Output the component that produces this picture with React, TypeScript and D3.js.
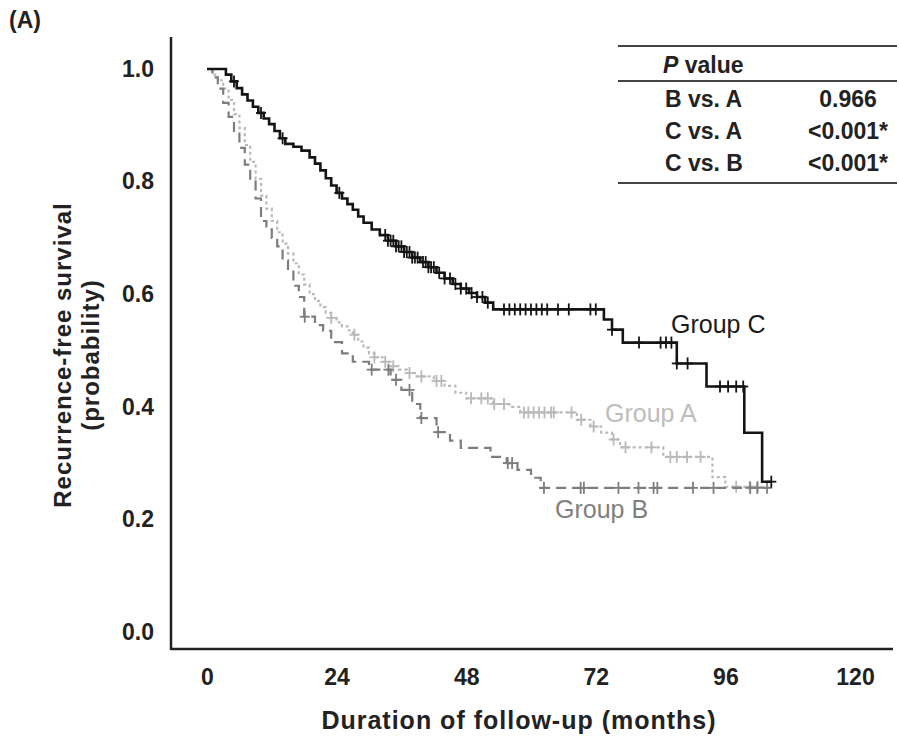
import { useEffect, useRef } from 'react';
import * as d3 from 'd3';

// Kaplan-Meier steps (months, survival after the step)
const groupCTimes = [0, 3.5, 4.5, 5.5, 6.5, 7.5, 8.5, 9.5, 10.5, 11.5, 12.5, 13.5, 14.5, 16, 17.5, 19, 20, 21, 22, 23, 24, 25, 26, 27, 28, 29, 30.5, 32, 33.5, 35, 36.5, 38, 39.5, 41, 42.5, 44, 45.5, 47, 48.5, 50, 51.5, 53, 73.5, 75, 77, 87, 92.5, 99.5, 102.8];
const groupCSurv = [1.0, 0.99, 0.978, 0.966, 0.955, 0.944, 0.933, 0.922, 0.912, 0.902, 0.89, 0.877, 0.867, 0.862, 0.855, 0.843, 0.832, 0.82, 0.806, 0.793, 0.78, 0.77, 0.76, 0.75, 0.738, 0.727, 0.715, 0.705, 0.695, 0.685, 0.675, 0.665, 0.657, 0.648, 0.638, 0.628, 0.618, 0.61, 0.602, 0.595, 0.585, 0.573, 0.555, 0.537, 0.514, 0.477, 0.436, 0.354, 0.267];
const groupCCensor = [5, 10, 14, 24.5, 33, 33.5, 34, 34.5, 35, 35.5, 36, 36.5, 37, 37.5, 38, 38.5, 39, 40, 40.5, 41, 41.5, 42, 43, 44, 45, 46, 47, 48, 49, 50, 51, 52, 55, 56, 57, 58, 59, 60, 61, 62, 63, 65, 67, 71, 72, 75, 80, 84, 85, 86, 87, 89, 95, 96.5, 98, 99.3, 104.5];

const groupATimes = [0, 1, 2, 3, 4, 5, 6, 7, 8, 9, 10, 11, 12, 13, 14, 15, 16, 17, 18, 19, 20, 21, 22, 23, 24, 25, 26, 27, 28, 29, 30, 31, 32.5, 34, 35.5, 37, 38.5, 42, 44, 46, 48, 53, 56, 58, 68.5, 71, 73, 75, 76.5, 84.5, 93.6, 96];
const groupASurv = [1.0, 0.99, 0.98, 0.965, 0.945, 0.92, 0.895, 0.865, 0.835, 0.805, 0.775, 0.752, 0.73, 0.71, 0.69, 0.672, 0.655, 0.635, 0.617, 0.6, 0.588, 0.577, 0.567, 0.558, 0.55, 0.543, 0.536, 0.528, 0.516, 0.505, 0.495, 0.488, 0.48, 0.472, 0.466, 0.46, 0.454, 0.446, 0.437, 0.425, 0.415, 0.405, 0.40, 0.39, 0.377, 0.365, 0.354, 0.342, 0.328, 0.311, 0.275, 0.258];
const groupACensor = [23, 27.3, 31, 33, 34.5, 37.5, 39.7, 42.5, 43.4, 48.9, 50.8, 52, 53.2, 55, 58.7, 59.5, 60.5, 61.5, 62.5, 63.7, 64.2, 67.5, 69.3, 71.6, 75.3, 77.5, 82.3, 85.8, 87, 88.9, 91.4, 98, 100.5, 102];

const groupBTimes = [0, 1, 2, 3, 4, 5, 6, 7, 8, 9, 10, 11, 12, 13, 14, 15, 16, 17, 18, 20, 21.5, 23, 25, 27, 30, 34, 36, 38, 39.5, 42.5, 45, 47, 52.5, 55.5, 57.5, 60, 61.8];
const groupBSurv = [1.0, 0.985, 0.965, 0.94, 0.915, 0.89, 0.86, 0.83, 0.80, 0.77, 0.73, 0.715, 0.70, 0.685, 0.66, 0.64, 0.615, 0.595, 0.56, 0.545, 0.535, 0.515, 0.495, 0.48, 0.466, 0.448, 0.43, 0.405, 0.38, 0.355, 0.34, 0.327, 0.311, 0.30, 0.288, 0.274, 0.256];
const groupBCensor = [18.1, 30.5, 33.6, 35, 37.5, 39.7, 42.8, 55.7, 56.5, 62.4, 69.2, 69.8, 76.2, 79.9, 82.7, 83.4, 90, 93.8, 100.6, 101.9, 103.7];

const followUpEnd = [104, 104, 104.5]; // A, B, C

const xTicks = [0, 24, 48, 72, 96, 120];
const yTicks = [0, 0.2, 0.4, 0.6, 0.8, 1.0];

const pRows = ['B vs. A', 'C vs. A', 'C vs. B'];
const pValues = ['0.966', '<0.001*', '<0.001*'];

const FONT = '"Liberation Sans", Arial, sans-serif';

export default function App() {
  const ref = useRef<SVGSVGElement>(null);

  useEffect(() => {
    const svg = d3.select(ref.current);
    svg.selectAll('*').remove();

    const x = d3.scaleLinear().domain([0, 120]).range([207, 855]);
    const y = d3.scaleLinear().domain([0, 1]).range([632, 69]);

    const axisX = 171, axisY = 649;

    // axis lines
    svg.append('line').attr('x1', axisX).attr('x2', axisX).attr('y1', 37).attr('y2', axisY + 1)
      .attr('stroke', '#222').attr('stroke-width', 2.5);
    svg.append('line').attr('x1', axisX).attr('x2', 893).attr('y1', axisY).attr('y2', axisY)
      .attr('stroke', '#222').attr('stroke-width', 2.5);

    // tick labels (no tick marks in the original)
    svg.append('g').attr('transform', `translate(0,${axisY})`)
      .call(d3.axisBottom(x).tickValues(xTicks).tickSize(0).tickPadding(20).tickFormat(d3.format('d')))
      .call(g => g.select('.domain').remove())
      .selectAll('text').style('fill', '#222').style('font-size', '23px').style('font-weight', 'bold')
      .style('font-family', FONT);

    svg.append('g').attr('transform', `translate(${axisX},0)`)
      .call(d3.axisLeft(y).tickValues(yTicks).tickSize(0).tickPadding(17).tickFormat(d3.format('.1f')))
      .call(g => g.select('.domain').remove())
      .selectAll('text').style('fill', '#222').style('font-size', '23px').style('font-weight', 'bold')
      .style('font-family', FONT);

    // axis titles
    svg.append('text').attr('x', 519).attr('y', 729).attr('text-anchor', 'middle')
      .style('font-family', FONT).style('font-size', '25px').style('font-weight', 'bold')
      .style('letter-spacing', '1px').style('fill', '#222')
      .text('Duration of follow-up (months)');

    const yt = svg.append('g').attr('transform', 'translate(0,355) rotate(-90)')
      .style('font-family', FONT).style('font-size', '24px').style('font-weight', 'bold')
      .style('letter-spacing', '1px').style('fill', '#222').attr('text-anchor', 'middle');
    yt.append('text').attr('x', 0).attr('y', 71).text('Recurrence-free survival');
    yt.append('text').attr('x', 0).attr('y', 99).text('(probability)');

    svg.append('text').attr('x', 9).attr('y', 28)
      .style('font-family', FONT).style('font-size', '23px').style('font-weight', 'bold')
      .style('fill', '#222').text('(A)');

    const groups = [
      { times: groupATimes, surv: groupASurv, censor: groupACensor, end: followUpEnd[0], color: '#b9b9b9', dash: '3,3', width: 2.2 },
      { times: groupBTimes, surv: groupBSurv, censor: groupBCensor, end: followUpEnd[1], color: '#7d7d7d', dash: '10,6', width: 2.2 },
      { times: groupCTimes, surv: groupCSurv, censor: groupCCensor, end: followUpEnd[2], color: '#141414', dash: null, width: 2.6 },
    ];

    const line = d3.line<[number, number]>()
      .x(d => x(d[0])).y(d => y(d[1]))
      .curve(d3.curveStepAfter);

    groups.forEach(g => {
      const pts: [number, number][] = g.times.map((t, i) => [t, g.surv[i]]);
      pts.push([g.end, g.surv[g.surv.length - 1]]);
      svg.append('path').attr('d', line(pts)).attr('fill', 'none')
        .attr('stroke', g.color).attr('stroke-width', g.width)
        .attr('stroke-dasharray', g.dash);

      const survAt = (c: number) => {
        const i = d3.bisectRight(g.times, c) - 1;
        return g.surv[Math.max(0, i)];
      };
      const marks = svg.append('g').attr('stroke', g.color).attr('stroke-width', 1.8);
      g.censor.forEach(c => {
        const cx = x(c), cy = y(survAt(c));
        marks.append('line').attr('x1', cx).attr('x2', cx).attr('y1', cy - 6).attr('y2', cy + 6);
        marks.append('line').attr('x1', cx - 5).attr('x2', cx + 5).attr('y1', cy).attr('y2', cy);
      });
    });

    // group labels
    const lbl = (t: string, lx: number, ly: number, c: string) =>
      svg.append('text').attr('x', lx).attr('y', ly).style('font-family', FONT)
        .style('font-size', '25px').style('fill', c).text(t);
    lbl('Group C', 671, 333, '#1a1a1a');
    lbl('Group A', 605, 422, '#bdbdbd');
    lbl('Group B', 555, 518, '#7f7f7f');

    // P value table
    const tbl = svg.append('g').style('font-family', FONT).style('font-size', '23px')
      .style('font-weight', 'bold').style('fill', '#222');
    [46, 81, 183].forEach(ly => {
      tbl.append('line').attr('x1', 618).attr('x2', 897).attr('y1', ly).attr('y2', ly)
        .attr('stroke', '#444').attr('stroke-width', 2.2);
    });
    const head = tbl.append('text').attr('x', 663).attr('y', 73);
    head.append('tspan').style('font-style', 'italic').text('P');
    head.append('tspan').text(' value');
    pRows.forEach((r, i) => {
      const ly = 107 + i * 32;
      tbl.append('text').attr('x', 665).attr('y', ly).text(r);
      tbl.append('text').attr('x', 848).attr('y', ly).attr('text-anchor', 'middle').text(pValues[i]);
    });
  }, []);

  return (
    <svg ref={ref} width={899} height={738}
      style={{ position: 'absolute', left: 0, top: 0, background: '#fff' }} />
  );
}
